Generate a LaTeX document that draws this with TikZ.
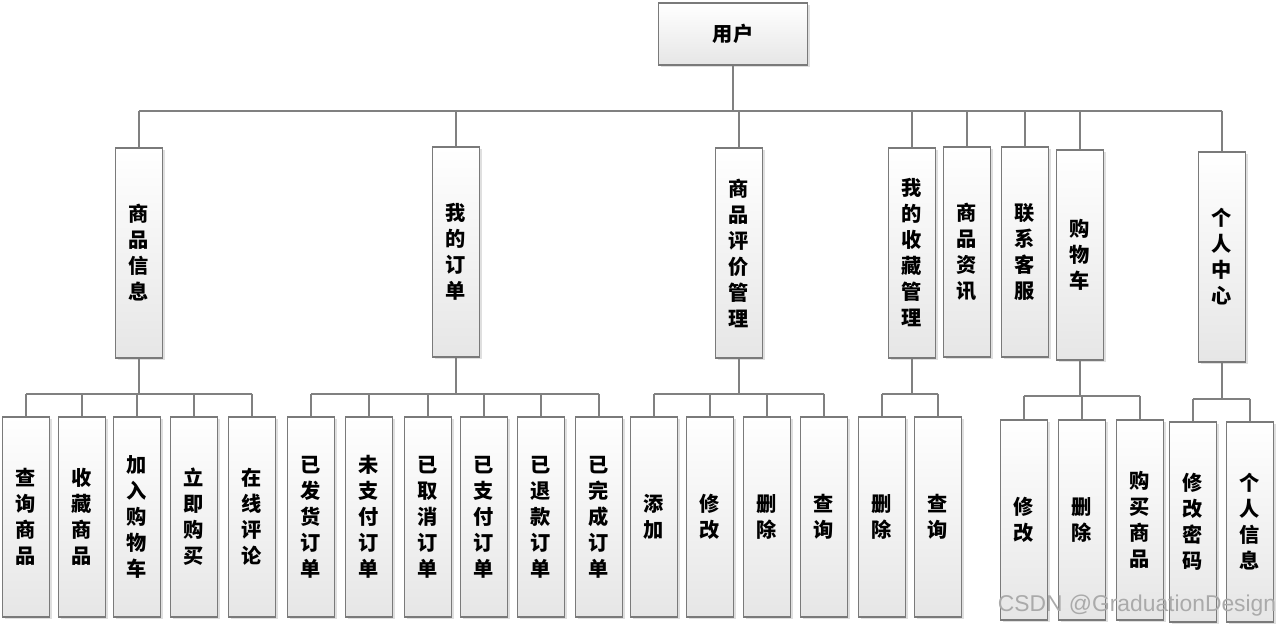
\documentclass[tikz,border=0pt]{standalone}
\usepackage{fontspec}
\setmainfont{Liberation Sans}
\newfontfamily\cjk{Noto Sans CJK SC}
\usetikzlibrary{shadows}
\definecolor{boxline}{RGB}{122,122,122}
\definecolor{linkgray}{RGB}{128,128,128}
\definecolor{boxbottom}{RGB}{230,230,230}
\definecolor{markgray}{RGB}{170,170,170}

\begin{document}
\begin{tikzpicture}[x=0.02cm, y=-0.02cm,
    box/.style={rectangle, draw=boxline, line width=0.8pt, top color=white,
                bottom color=boxbottom, minimum width=0.94cm, inner sep=0pt,
                align=center, font=\cjk\bfseries\fontsize{11.5}{14.8}\selectfont,
                drop shadow={shadow xshift=1.2pt, shadow yshift=-1.2pt, opacity=.25}},
    root/.style={box, minimum width=2.98cm, minimum height=1.24cm},
    lvlone/.style={box, minimum height=4.2cm},
    lvltwo/.style={box, minimum height=4cm},
    ln/.style={draw=linkgray, line width=1.1pt},
    wm/.style={font=\fontsize{13}{13}\selectfont, text=markgray}]
    \useasboundingbox (0,0) rectangle (1280,628);

    % root
    \node[root] (u) at (733,34) {用户};

    % first level
    \node[lvlone] (a) at (139,253) {商\\品\\信\\息};
    \node[lvlone] (b) at (456,252) {我\\的\\订\\单};
    \node[lvlone] (c) at (739,253) {商\\品\\评\\价\\管\\理};
    \node[lvlone] (d) at (912,253) {我\\的\\收\\藏\\管\\理};
    \node[lvlone] (e) at (967,252) {商\\品\\资\\讯};
    \node[lvlone] (f) at (1025,252) {联\\系\\客\\服};
    \node[lvlone] (g) at (1080,255) {购\\物\\车};
    \node[lvlone] (h) at (1222,257) {个\\人\\中\\心};

    % second level
    \node[lvltwo] (a1) at (26,517) {查\\询\\商\\品};
    \node[lvltwo] (a2) at (82,517) {收\\藏\\商\\品};
    \node[lvltwo] (a3) at (137,517) {加\\入\\购\\物\\车};
    \node[lvltwo] (a4) at (194,517) {立\\即\\购\\买};
    \node[lvltwo] (a5) at (252,517) {在\\线\\评\\论};

    \node[lvltwo] (b1) at (311,517) {已\\发\\货\\订\\单};
    \node[lvltwo] (b2) at (369,517) {未\\支\\付\\订\\单};
    \node[lvltwo] (b3) at (428,517) {已\\取\\消\\订\\单};
    \node[lvltwo] (b4) at (484,517) {已\\支\\付\\订\\单};
    \node[lvltwo] (b5) at (541,517) {已\\退\\款\\订\\单};
    \node[lvltwo] (b6) at (599,517) {已\\完\\成\\订\\单};

    \node[lvltwo] (c1) at (654,517) {添\\加};
    \node[lvltwo] (c2) at (710,517) {修\\改};
    \node[lvltwo] (c3) at (767,517) {删\\除};
    \node[lvltwo] (c4) at (824,517) {查\\询};

    \node[lvltwo] (d1) at (882,517) {删\\除};
    \node[lvltwo] (d2) at (938,517) {查\\询};

    \node[lvltwo] (g1) at (1024,520) {修\\改};
    \node[lvltwo] (g2) at (1082,520) {删\\除};
    \node[lvltwo] (g3) at (1140,520) {购\\买\\商\\品};

    \node[lvltwo] (h1) at (1193,522) {修\\改\\密\\码};
    \node[lvltwo] (h2) at (1250,522) {个\\人\\信\\息};

    % links root
    \draw[ln] (u.south) -- ++(0,45) coordinate (ub);
    \draw[ln] (ub -| a.north) -- (ub -| h.north);
    \draw[ln] (ub -| a.north) -- (a.north) (ub -| b.north) -- (b.north)
              (ub -| c.north) -- (c.north) (ub -| d.north) -- (d.north)
              (ub -| e.north) -- (e.north) (ub -| f.north) -- (f.north)
              (ub -| g.north) -- (g.north) (ub -| h.north) -- (h.north);

    % links first level
    \draw[ln] (a.south) -- ++(0,35) coordinate (ab);
    \draw[ln] (ab -| a1.north) -- (ab -| a5.north);
    \draw[ln] (ab -| a1.north) -- (a1.north) (ab -| a2.north) -- (a2.north)
              (ab -| a3.north) -- (a3.north) (ab -| a4.north) -- (a4.north)
              (ab -| a5.north) -- (a5.north);

    \draw[ln] (b.south) -- ++(0,36) coordinate (bb);
    \draw[ln] (bb -| b1.north) -- (bb -| b6.north);
    \draw[ln] (bb -| b1.north) -- (b1.north) (bb -| b2.north) -- (b2.north)
              (bb -| b3.north) -- (b3.north) (bb -| b4.north) -- (b4.north)
              (bb -| b5.north) -- (b5.north) (bb -| b6.north) -- (b6.north);

    \draw[ln] (c.south) -- ++(0,35) coordinate (cb);
    \draw[ln] (cb -| c1.north) -- (cb -| c4.north);
    \draw[ln] (cb -| c1.north) -- (c1.north) (cb -| c2.north) -- (c2.north)
              (cb -| c3.north) -- (c3.north) (cb -| c4.north) -- (c4.north);

    \draw[ln] (d.south) -- ++(0,35) coordinate (db);
    \draw[ln] (db -| d1.north) -- (db -| d2.north);
    \draw[ln] (db -| d1.north) -- (d1.north) (db -| d2.north) -- (d2.north);

    \draw[ln] (g.south) -- ++(0,35) coordinate (gb);
    \draw[ln] (gb -| g1.north) -- (gb -| g3.north);
    \draw[ln] (gb -| g1.north) -- (g1.north) (gb -| g2.north) -- (g2.north)
              (gb -| g3.north) -- (g3.north);

    \draw[ln] (h.south) -- ++(0,36) coordinate (hb);
    \draw[ln] (hb -| h1.north) -- (hb -| h2.north);
    \draw[ln] (hb -| h1.north) -- (h1.north) (hb -| h2.north) -- (h2.north);

    % watermark
    \node[wm] (mark) at (1137,606) {CSDN @GraduationDesign};
\end{tikzpicture}
\end{document}
